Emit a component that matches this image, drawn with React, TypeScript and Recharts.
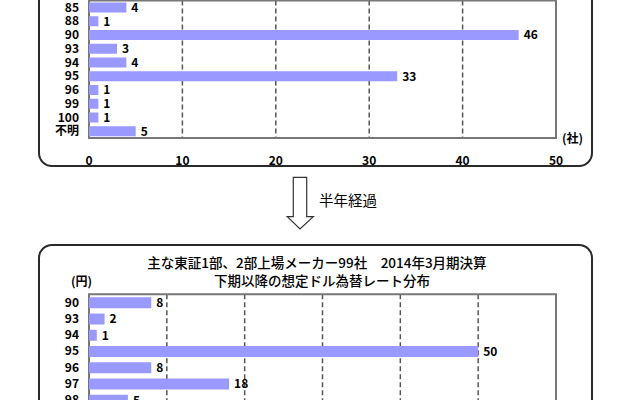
import React from "react";
import {
  BarChart,
  Bar,
  XAxis,
  YAxis,
  CartesianGrid,
  LabelList,
  ReferenceArea,
} from "recharts";

// 上: 前回（半年前）の想定レート分布
const topRates = ["85", "88", "90", "93", "94", "95", "96", "99", "100", "不明"];
const topCounts = [4, 1, 46, 3, 4, 33, 1, 1, 1, 5];
const topTicks = [0, 10, 20, 30, 40, 50];

// 下: 2014年3月期 下期以降の想定レート分布
const bottomRates = ["90", "93", "94", "95", "96", "97", "98"];
const bottomCounts = [8, 2, 1, 50, 8, 18, 5];
const bottomTicks = [0, 10, 20, 30, 40, 50, 60];

const FONT = '"Noto Sans CJK JP", "Noto Sans", sans-serif';
const BAR = "#9999ff";
const labelStyle = { fill: "#000", fontSize: 12, fontWeight: "bold", fontFamily: FONT };

function toRows(cats: string[], vals: number[]) {
  return cats.map((c, i) => ({ c, v: vals[i] }));
}

function DistChart({
  rows,
  ticks,
  height,
  margin,
  barSize,
}: {
  rows: { c: string; v: number }[];
  ticks: number[];
  height: number;
  margin: { top: number; right: number; bottom: number; left: number };
  barSize: number;
}) {
  const max = ticks[ticks.length - 1];
  return (
    <BarChart
      width={640}
      height={height}
      data={rows}
      layout="vertical"
      margin={margin}
      barSize={barSize}
    >
      <CartesianGrid
        horizontal={false}
        stroke="#555"
        strokeWidth={1.5}
        strokeDasharray="5 3"
      />
      <XAxis
        type="number"
        domain={[0, max]}
        ticks={ticks}
        height={32}
        axisLine={false}
        tickLine={false}
        tickSize={0}
        tick={(p: any) => (
          <text
            x={p.x}
            y={p.y + 19}
            textAnchor="middle"
            dominantBaseline="central"
            style={labelStyle}
          >
            {p.payload.value}
          </text>
        )}
      />
      <YAxis
        type="category"
        dataKey="c"
        width={89}
        axisLine={false}
        tickLine={false}
        tickSize={0}
        tickMargin={10}
        interval={0}
        tick={labelStyle}
      />
      <Bar dataKey="v" fill={BAR} isAnimationActive={false}>
        <LabelList
          dataKey="v"
          position="right"
          offset={5}
          fill="#000"
          fontSize={12}
          fontWeight="bold"
          fontFamily={FONT}
        />
      </Bar>
      <ReferenceArea
        x1={0}
        x2={max}
        fill="none"
        stroke="#777"
        strokeWidth={2}
        ifOverflow="visible"
      />
    </BarChart>
  );
}

const boxStyle: React.CSSProperties = {
  position: "absolute",
  left: 38,
  width: 555,
  border: "2px solid #2a2a2a",
  borderRadius: 14,
  boxSizing: "border-box",
};

export default function App() {
  return (
    <div
      style={{
        position: "fixed",
        top: 0,
        left: 0,
        width: 640,
        height: 400,
        overflow: "hidden",
        background: "#fff",
        fontFamily: FONT,
        color: "#000",
      }}
    >
      {/* 上の枠 */}
      <div style={{ ...boxStyle, top: -60, height: 227 }} />
      <div style={{ position: "absolute", left: 0, top: 0 }}>
        <DistChart
          rows={toRows(topRates, topCounts)}
          ticks={topTicks}
          height={170}
          margin={{ top: 0.5, right: 84, bottom: 0, left: 0 }}
          barSize={10}
        />
      </div>
      <div
        style={{
          position: "absolute",
          left: 562,
          top: 130,
          fontSize: 12,
          fontWeight: "bold",
          lineHeight: "16px",
        }}
      >
        (社)
      </div>

      {/* 矢印 */}
      <svg
        width={640}
        height={60}
        style={{ position: "absolute", left: 0, top: 172 }}
      >
        <polygon
          points="293.3,5.3 306.7,5.3 306.7,44.7 313.3,44.7 300,57 287.3,44.7 293.3,44.7"
          fill="#fff"
          stroke="#333"
          strokeWidth={1.2}
        />
      </svg>
      <div
        style={{
          position: "absolute",
          left: 319,
          top: 190,
          fontSize: 14.5,
          lineHeight: "20px",
        }}
      >
        半年経過
      </div>

      {/* 下の枠 */}
      <div style={{ ...boxStyle, top: 244, height: 250 }} />
      <div
        style={{
          position: "absolute",
          left: 0,
          width: 640,
          top: 253,
          textAlign: "center",
          fontSize: 13.5,
          lineHeight: "18px",
          fontWeight: 500,
        }}
      >
        <div style={{ marginLeft: -6 }}>主な東証1部、2部上場メーカー99社　2014年3月期決算</div>
        <div style={{ marginLeft: 4 }}>下期以降の想定ドル為替レート分布</div>
      </div>
      <div
        style={{
          position: "absolute",
          left: 71,
          top: 272,
          fontSize: 12,
          fontWeight: "bold",
          lineHeight: "18px",
        }}
      >
        (円)
      </div>
      <div style={{ position: "absolute", left: 0, top: 284 }}>
        <DistChart
          rows={toRows(bottomRates, bottomCounts)}
          ticks={bottomTicks}
          height={156}
          margin={{ top: 10.3, right: 84, bottom: 0, left: 0 }}
          barSize={11}
        />
      </div>
    </div>
  );
}
